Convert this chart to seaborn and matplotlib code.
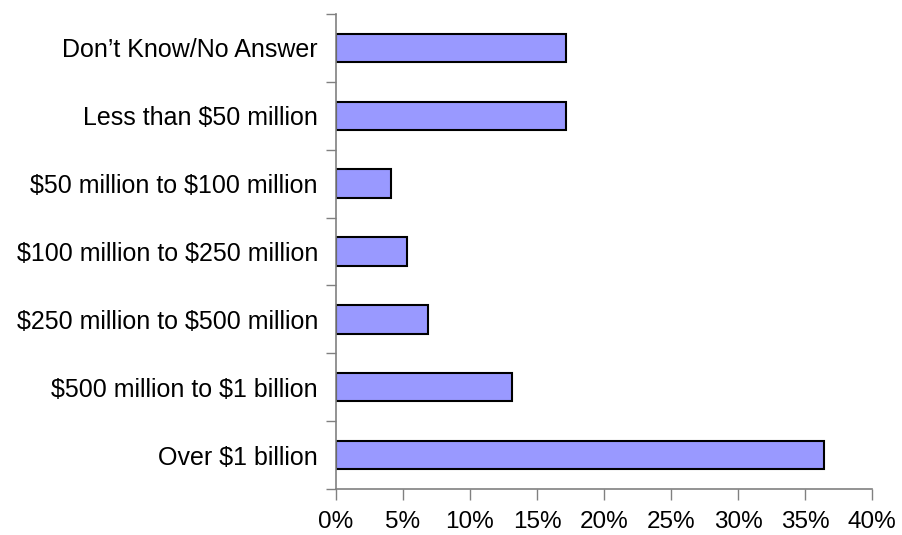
import numpy as np
import pandas as pd
import matplotlib
matplotlib.use("Agg")
import matplotlib.pyplot as plt
import seaborn as sns
from matplotlib.ticker import FixedLocator, PercentFormatter

# Survey answer categories (top to bottom) and share of respondents (%)
categories = [
    "Don\u2019t Know/No Answer",
    "Less than $50 million",
    "$50 million to $100 million",
    "$100 million to $250 million",
    "$250 million to $500 million",
    "$500 million to $1 billion",
    "Over $1 billion",
]
shares = [17.2, 17.2, 4.1, 5.3, 6.9, 13.1, 36.4]
x_ticks = [0, 5, 10, 15, 20, 25, 30, 35, 40]

df = pd.DataFrame({"category": categories, "share": shares})

sns.set_style("white")
plt.rcParams["font.family"] = ["Liberation Sans", "DejaVu Sans"]
plt.rcParams["text.parse_math"] = False  # keep the dollar signs literal

fig = plt.figure(figsize=(9.03, 5.35), dpi=100)
ax = fig.add_axes([336 / 903, 1 - 489 / 535, (872 - 336) / 903, (489 - 14) / 535])

sns.barplot(data=df, x="share", y="category", order=categories, orient="h",
            color="#9999FF", saturation=1, width=0.42,
            edgecolor="black", linewidth=1.5, ax=ax)

ax.set_xlim(0, 40)
ax.set_ylim(len(categories) - 0.5, -0.5)
ax.set_xticks(x_ticks)
ax.xaxis.set_major_formatter(PercentFormatter(decimals=0))
ax.set_xlabel("")
ax.set_ylabel("")

# category boundaries get the tick marks, like the original
ax.yaxis.set_minor_locator(FixedLocator(np.arange(-0.5, len(categories), 1.0)))
ax.tick_params(axis="y", which="major", left=True, length=0, pad=13,
               labelsize=18, labelcolor="black")
ax.tick_params(axis="y", which="minor", left=True, length=7, width=1,
               color="#808080", direction="out")
ax.tick_params(axis="x", which="major", bottom=True, length=8, width=1,
               color="#808080", direction="out", pad=8, labelsize=17.5,
               labelcolor="black")

for side in ["top", "right"]:
    ax.spines[side].set_visible(False)
for side in ["left", "bottom"]:
    ax.spines[side].set_color("#808080")
    ax.spines[side].set_linewidth(1.2)

fig.savefig("out.png", dpi=100)
